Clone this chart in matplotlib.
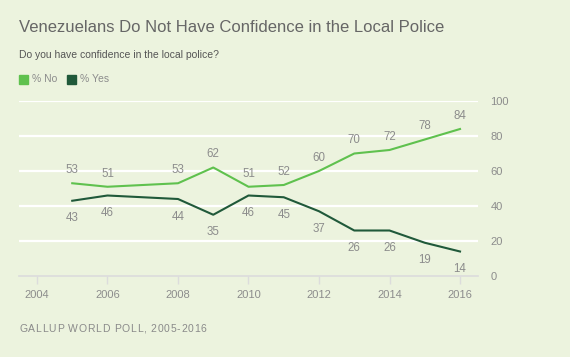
import matplotlib
matplotlib.use("Agg")
import matplotlib.pyplot as plt

years = [2005, 2006, 2008, 2009, 2010, 2011, 2012, 2013, 2014, 2015, 2016]
no_pct = [53, 51, 53, 62, 51, 52, 60, 70, 72, 78, 84]
yes_pct = [43, 46, 44, 35, 46, 45, 37, 26, 26, 19, 14]
x_ticks = [2004, 2006, 2008, 2010, 2012, 2014, 2016]
y_ticks = [0, 20, 40, 60, 80, 100]

BG = "#ECF3DE"
C_NO = "#5FC14E"
C_YES = "#20593A"
GREY = "#8C8C8C"

plt.rcParams["font.family"] = ["Liberation Sans", "DejaVu Sans"]

fig = plt.figure(figsize=(5.7, 3.57), dpi=100, facecolor=BG)
ax = fig.add_axes([19 / 570, 1 - 276 / 357, (478 - 19) / 570, 175 / 357])
ax.set_facecolor(BG)

for t in y_ticks[1:]:
    ax.axhline(t, color="white", lw=1.6, zorder=1)

ax.plot(years, no_pct, color=C_NO, lw=1.5, zorder=3)
ax.plot(years, yes_pct, color=C_YES, lw=1.5, zorder=3)

for x, v in zip(years, no_pct):
    ax.annotate(str(v), (x, v), xytext=(0, 9.4), textcoords="offset points",
                ha="center", va="center", fontsize=8.3, color=GREY)
for x, v in zip(years, yes_pct):
    ax.annotate(str(v), (x, v), xytext=(0, -12.6), textcoords="offset points",
                ha="center", va="center", fontsize=8.3, color=GREY)

ax.set_xlim(2003.49, 2016.51)
ax.set_ylim(0, 100)
ax.set_xticks(x_ticks)
ax.set_yticks(y_ticks)
ax.yaxis.tick_right()
ax.tick_params(axis="y", length=0, labelsize=8, labelcolor=GREY, pad=9)
ax.tick_params(axis="x", length=6, width=1, color="#DCDCDC", labelsize=8,
               labelcolor=GREY, pad=4)
for s in ["top", "left", "right"]:
    ax.spines[s].set_visible(False)
ax.spines["bottom"].set_color("#DCDCDC")
ax.spines["bottom"].set_linewidth(1.2)
ax.spines["bottom"].set_zorder(2)

fig.text(19 / 570, 1 - 27 / 357, "Venezuelans Do Not Have Confidence in the Local Police",
         fontsize=12, color="#666666", va="center", ha="left")
fig.text(19 / 570, 1 - 55 / 357, "Do you have confidence in the local police?",
         fontsize=7.5, color="#555555", va="center", ha="left")

# legend
leg_y = 1 - 79 / 357
fig.patches.append(plt.Rectangle((19 / 570, leg_y - 4.5 / 357), 9 / 570, 9 / 357,
                                 transform=fig.transFigure, color=C_NO))
fig.text(32 / 570, leg_y, "% No", fontsize=7.5, color=GREY, va="center")
fig.patches.append(plt.Rectangle((67 / 570, leg_y - 4.5 / 357), 9 / 570, 9 / 357,
                                 transform=fig.transFigure, color=C_YES))
fig.text(80 / 570, leg_y, "% Yes", fontsize=7.5, color=GREY, va="center")

# source line with letter spacing
renderer = fig.canvas.get_renderer()
x_px = 19
for ch in "GALLUP WORLD POLL, 2005-2016":
    t = fig.text(x_px / 570, 1 - 329 / 357, ch, fontsize=7.5, color="#8A8A8A",
                 va="center", ha="left")
    x_px += t.get_window_extent(renderer).width + 0.75

fig.savefig("out.png", dpi=100, facecolor=BG)
